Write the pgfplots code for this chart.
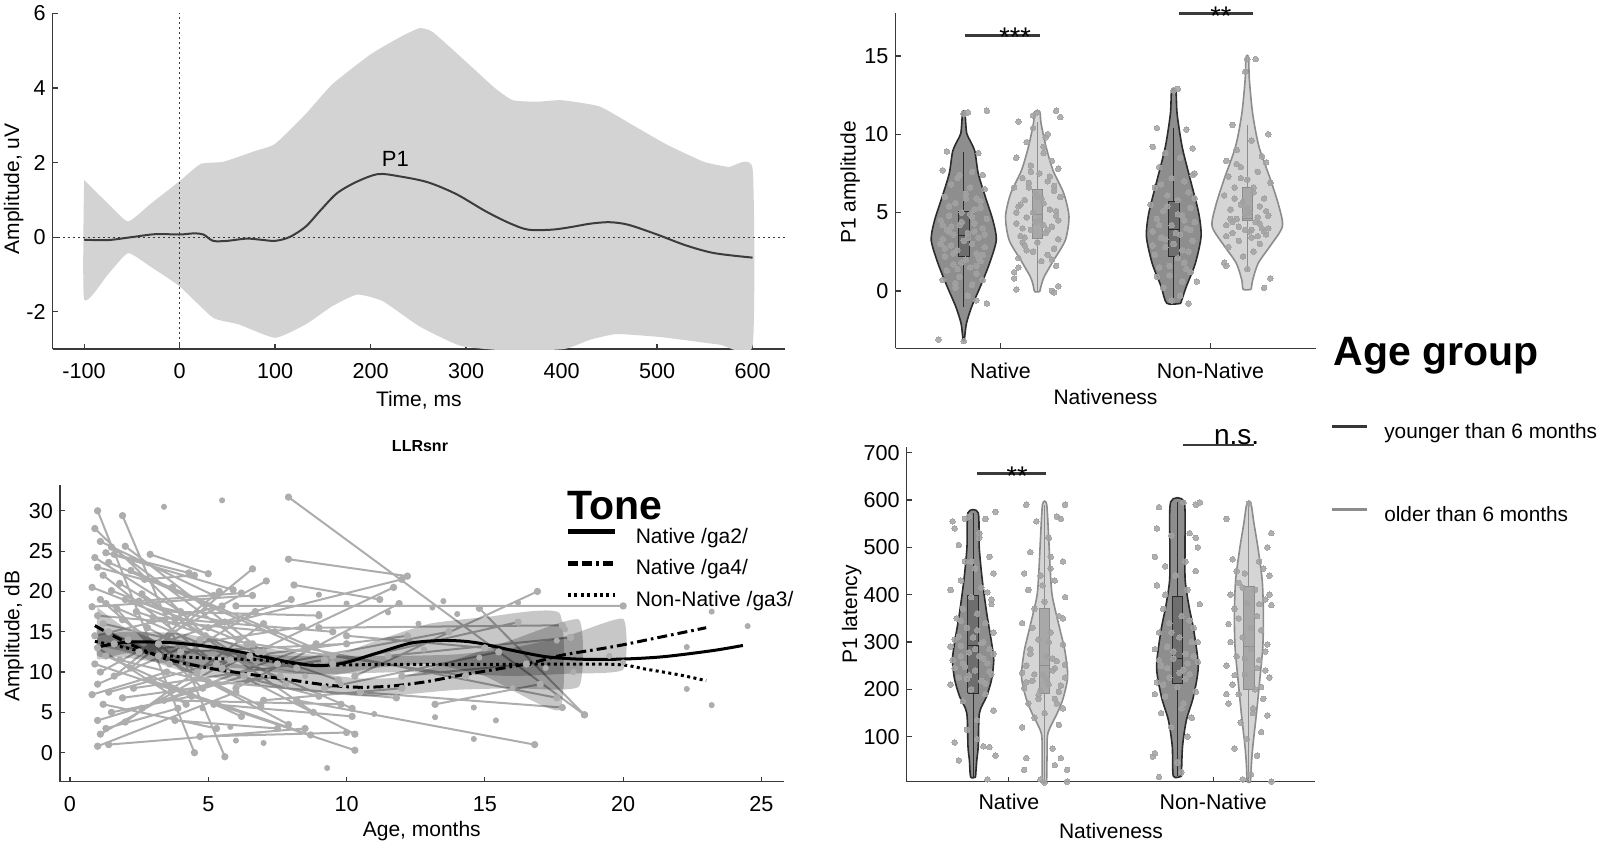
\documentclass[border=0pt]{standalone}
\usepackage{fontspec}
\setmainfont{Liberation Sans}
\usepackage{pgfplots}
\usepackage{pgfplotstable}
\pgfplotsset{compat=1.18}

\definecolor{axl}{HTML}{3A3A3A}
\definecolor{bandc}{HTML}{D3D3D3}
\definecolor{erpl}{HTML}{3C3C3C}
\definecolor{vyf}{HTML}{8E8E8E}
\definecolor{vyd}{HTML}{2C2C2C}
\definecolor{vof}{HTML}{D5D5D5}
\definecolor{vod}{HTML}{8C8C8C}
\definecolor{byf}{HTML}{6E6E6E}
\definecolor{bof}{HTML}{A8A8A8}
\definecolor{ptc}{HTML}{A2A2A2}
\definecolor{segc}{HTML}{ADADAD}
\definecolor{sigc}{HTML}{3A3A3A}
\definecolor{legy}{HTML}{363636}
\definecolor{lego}{HTML}{8C8C8C}

\pgfplotsset{
  panel/.style={
    scale only axis, anchor=south west,
    axis x line*=bottom, axis y line*=left,
    axis line style={draw=axl, line width=0.7pt},
    tick align=inside, major tick length=2.5pt,
    tick style={draw=axl, line width=0.6pt},
    /pgf/number format/assume math mode=true,
    ticklabel style={font=\fontsize{10.8}{12}\selectfont},
    label style={font=\fontsize{10.5}{12}\selectfont},
  },
  violinY/.style={fill=vyf, draw=vyd, line width=0.8pt, smooth, tension=0.45},
  violinO/.style={fill=vof, draw=vod, line width=0.8pt, smooth, tension=0.45},
  whiskY/.style={draw=vyd, line width=0.5pt},
  whiskO/.style={draw=vod, line width=0.5pt},
  boxY/.style={fill=byf, draw=vyd, line width=0.5pt},
  boxO/.style={fill=bof, draw=vod, line width=0.5pt},
  jit/.style={only marks, color=ptc, mark=*, mark size=1.4pt, mark options={draw=ptc, fill=ptc, line width=0pt, opacity=0.85}},
  sig/.style={sigc, line width=1.35pt},
}

% ---------- violin outlines: s (side), w (half width), y ----------
\pgfplotstableread{
s w y
1 0.003 -3.13
1 0.013 -2.06
1 0.038 -1.0
1 0.079 0.28
1 0.123 1.77
1 0.155 3.25
1 0.139 4.5
1 0.103 6.0
1 0.069 7.5
1 0.053 8.9
1 0.030 9.6
1 0.014 10.06
1 0.008 11.0
1 0.007 11.44
-1 0.007 11.44
-1 0.008 11.0
-1 0.014 10.06
-1 0.030 9.6
-1 0.053 8.9
-1 0.069 7.5
-1 0.103 6.0
-1 0.139 4.5
-1 0.155 3.25
-1 0.123 1.77
-1 0.079 0.28
-1 0.038 -1.0
-1 0.013 -2.06
-1 0.003 -3.13
1 0.003 -3.13
}\NYa
\pgfplotstableread{
s w y
1 0.012 -0.04
1 0.020 0.4
1 0.033 0.91
1 0.079 1.98
1 0.134 3.25
1 0.151 4.74
1 0.127 6.2
1 0.075 7.7
1 0.042 9.2
1 0.018 10.7
1 0.012 11.44
-1 0.012 11.44
-1 0.018 10.7
-1 0.042 9.2
-1 0.075 7.7
-1 0.127 6.2
-1 0.151 4.74
-1 0.134 3.25
-1 0.079 1.98
-1 0.033 0.91
-1 0.020 0.4
-1 0.012 -0.04
1 0.012 -0.04
}\NOa
\pgfplotstableread{
s w y
1 0.033 -0.79
1 0.060 0.28
1 0.103 1.77
1 0.130 3.47
1 0.119 4.96
1 0.079 7.1
1 0.040 9.2
1 0.016 11.3
1 0.010 12.8
-1 0.010 12.8
-1 0.016 11.3
-1 0.040 9.2
-1 0.079 7.1
-1 0.119 4.96
-1 0.130 3.47
-1 0.103 1.77
-1 0.060 0.28
-1 0.033 -0.79
1 0.033 -0.79
}\NNYa
\pgfplotstableread{
s w y
1 0.019 0.1
1 0.026 0.7
1 0.052 1.77
1 0.107 2.83
1 0.167 4.1
1 0.151 5.4
1 0.111 7.1
1 0.056 9.2
1 0.026 11.3
1 0.010 13.5
1 0.006 14.9
-1 0.006 14.9
-1 0.010 13.5
-1 0.026 11.3
-1 0.056 9.2
-1 0.111 7.1
-1 0.151 5.4
-1 0.167 4.1
-1 0.107 2.83
-1 0.052 1.77
-1 0.026 0.7
-1 0.019 0.1
1 0.019 0.1
}\NNOa
\pgfplotstableread{
s w y
1 0.012 15
1 0.018 50
1 0.025 79
1 0.031 150
1 0.065 184
1 0.090 220
1 0.101 262
1 0.090 300
1 0.067 360
1 0.045 431
1 0.030 500
1 0.025 573
-1 0.025 573
-1 0.030 500
-1 0.045 431
-1 0.067 360
-1 0.090 300
-1 0.101 262
-1 0.090 220
-1 0.065 184
-1 0.031 150
-1 0.025 79
-1 0.018 50
-1 0.012 15
1 0.012 15
}\NYl
\pgfplotstableread{
s w y
1 0.010 5
1 0.012 60
1 0.016 107
1 0.061 149
1 0.090 180
1 0.113 227
1 0.100 280
1 0.076 325
1 0.038 396
1 0.028 450
1 0.020 520
1 0.010 591
-1 0.010 591
-1 0.020 520
-1 0.028 450
-1 0.038 396
-1 0.076 325
-1 0.100 280
-1 0.113 227
-1 0.090 180
-1 0.061 149
-1 0.016 107
-1 0.012 60
-1 0.010 5
1 0.010 5
}\NOl
\pgfplotstableread{
s w y
1 0.020 17
1 0.025 79
1 0.044 135
1 0.078 184
1 0.102 248
1 0.080 325
1 0.057 375
1 0.038 431
1 0.037 500
1 0.033 596
-1 0.033 596
-1 0.037 500
-1 0.038 431
-1 0.057 375
-1 0.080 325
-1 0.102 248
-1 0.078 184
-1 0.044 135
-1 0.025 79
-1 0.020 17
1 0.020 17
}\NNYl
\pgfplotstableread{
s w y
1 0.008 5
1 0.012 40
1 0.019 79
1 0.037 149
1 0.053 219
1 0.068 290
1 0.071 360
1 0.065 431
1 0.044 500
1 0.025 550
1 0.010 592
-1 0.010 592
-1 0.025 550
-1 0.044 500
-1 0.065 431
-1 0.071 360
-1 0.068 290
-1 0.053 219
-1 0.037 149
-1 0.019 79
-1 0.012 40
-1 0.008 5
1 0.008 5
}\NNOl

% ---------- jittered points: dx y ----------
\pgfplotstableread{
dx y
-0.08 8.9
0.07 8.8
-0.10 7.7
0.09 7.4
-0.03 7.2
0.04 7.6
-0.06 6.8
0.10 6.5
0.01 6.2
-0.09 6.0
0.06 5.9
-0.04 5.6
0.08 5.3
-0.01 5.0
0.03 4.9
-0.07 4.8
0.11 4.6
-0.11 4.5
0.05 4.3
-0.02 4.2
0.09 4.0
-0.08 3.9
0.02 3.7
-0.05 3.6
0.07 3.4
-0.10 3.3
0.00 3.2
0.04 3.0
-0.06 2.9
0.10 2.8
-0.03 2.6
0.06 2.4
-0.09 2.2
0.01 2.0
0.08 1.9
-0.05 1.7
0.03 1.5
-0.08 1.3
0.06 1.1
-0.02 0.9
0.09 0.7
-0.10 0.7
0.04 0.4
-0.04 0.2
0.02 -0.3
0.06 -0.6
0.11 -0.8
-0.12 -3.1
0.00 -3.2
0.02 11.4
0.11 11.5
0.00 11.3
-0.07 5.4
0.05 3.8
-0.01 4.4
0.05 5.2
-0.06 4.1
0.02 3.4
-0.09 2.7
0.07 2.1
-0.03 1.4
0.10 3.6
-0.11 3.0
0.04 4.7
-0.05 2.4
0.08 5.7
-0.01 1.8
0.03 6.6
-0.07 3.8
0.06 1.6
-0.04 0.5
0.01 5.9
-0.10 4.2
0.09 2.3
-0.02 7.4
}\NYap
\pgfplotstableread{
dx y
-0.09 10.8
0.09 11.5
0.11 11.1
0.00 11.4
-0.02 11.2
0.05 10.0
-0.05 9.5
0.03 9.2
-0.10 8.5
0.07 8.3
-0.03 8.0
0.10 7.8
0.01 7.5
-0.07 7.2
0.05 7.0
-0.11 6.6
0.08 6.4
-0.01 6.2
0.11 6.0
-0.06 5.8
0.03 5.6
-0.09 5.4
0.06 5.2
-0.02 5.0
0.09 4.8
-0.05 4.7
0.01 4.5
-0.10 4.3
0.07 4.1
-0.03 3.9
0.04 3.7
-0.08 3.5
0.10 3.3
0.00 3.1
-0.06 2.9
0.08 2.7
-0.02 2.5
0.05 2.3
-0.09 2.1
0.02 1.9
0.09 1.6
-0.11 1.2
-0.11 0.8
0.10 0.3
-0.10 0.1
0.07 0.0
0.08 -0.1
-0.04 6.6
0.03 4.2
-0.07 3.1
0.06 7.3
-0.04 6.9
0.02 5.9
-0.08 5.5
0.09 5.1
-0.01 4.4
0.05 3.9
-0.06 3.4
0.08 6.7
-0.10 5.0
0.03 8.8
-0.03 7.6
0.10 4.5
-0.07 4.0
0.00 6.0
-0.05 2.6
0.07 2.0
-0.09 1.5
0.04 9.8
-0.02 10.4
}\NOap
\pgfplotstableread{
dx y
0.00 12.8
0.02 12.9
-0.08 10.4
0.06 10.3
-0.10 9.2
0.09 9.1
-0.04 8.8
0.03 8.5
-0.07 7.9
0.10 7.5
-0.01 7.2
0.05 7.0
-0.09 6.6
0.07 6.3
-0.03 6.1
0.02 5.8
-0.11 5.5
0.08 5.3
-0.05 5.1
0.04 4.8
-0.08 4.6
0.10 4.4
-0.01 4.2
0.06 4.0
-0.10 3.8
0.03 3.6
-0.06 3.4
0.09 3.2
0.00 3.0
-0.04 2.8
0.07 2.5
-0.09 2.3
0.02 2.1
0.05 1.8
-0.07 1.5
0.08 1.2
-0.02 1.0
0.04 0.6
-0.05 0.2
0.11 0.6
0.03 -0.3
-0.01 -0.6
0.07 -0.8
0.09 7.4
0.05 4.5
-0.07 4.2
0.01 3.7
-0.03 5.4
0.08 3.9
-0.10 2.9
0.04 2.6
-0.06 6.8
0.10 5.9
-0.02 1.6
0.06 1.4
-0.08 0.9
0.02 4.9
-0.04 3.3
}\NNYap
\pgfplotstableread{
dx y
0.00 14.8
0.04 14.8
-0.01 14.0
-0.07 10.6
0.10 10.0
0.02 9.6
-0.05 9.0
0.07 8.6
-0.10 8.3
0.09 8.2
-0.03 7.9
0.05 7.6
-0.09 7.3
0.00 7.1
0.11 6.9
-0.06 6.6
0.03 6.3
-0.11 6.1
0.08 5.9
-0.02 5.7
0.06 5.4
-0.08 5.2
0.01 5.0
0.10 4.8
-0.05 4.6
0.04 4.4
-0.10 4.2
0.07 4.0
-0.01 3.9
-0.07 3.7
0.09 3.6
0.02 3.4
-0.04 3.2
0.06 3.0
-0.09 2.8
0.03 2.5
-0.02 2.2
-0.11 1.8
-0.10 1.6
0.00 1.4
0.11 0.8
0.08 0.2
0.05 4.7
-0.03 5.5
0.01 3.8
0.06 4.3
-0.04 4.1
0.02 3.9
-0.08 4.6
0.09 5.1
-0.01 4.9
0.05 3.5
-0.06 5.9
0.08 3.8
-0.10 3.5
0.03 6.6
-0.03 7.2
0.10 4.0
-0.07 4.4
0.00 5.3
-0.05 8.1
}\NNOap
\pgfplotstableread{
dx y
-0.10 555
-0.09 540
0.06 560
0.11 575
-0.02 565
0.03 530
-0.07 505
0.08 480
-0.04 470
0.01 455
0.10 445
-0.06 430
0.04 415
-0.11 410
0.07 405
-0.01 395
0.09 380
-0.05 370
0.02 360
-0.08 350
0.06 340
-0.03 330
0.10 320
0.00 310
-0.09 305
0.05 300
-0.06 292
0.08 285
-0.02 278
0.03 270
-0.10 262
0.07 255
-0.04 248
0.01 240
0.09 232
-0.07 225
0.04 218
-0.11 210
-0.01 200
0.06 190
-0.05 175
0.10 155
0.02 135
-0.03 115
-0.09 88
0.05 80
0.08 78
-0.07 50
0.11 60
0.07 10
0.02 95
-0.06 270
0.05 265
-0.05 255
0.01 285
-0.09 245
0.08 238
-0.02 230
0.04 298
-0.07 312
0.10 275
-0.03 222
0.06 212
-0.11 290
0.02 325
-0.06 345
0.09 390
-0.01 470
0.03 520
-0.04 560
}\NYlp
\pgfplotstableread{
dx y
0.10 590
-0.09 590
0.06 565
-0.04 555
0.08 560
0.02 520
-0.07 490
0.03 480
0.09 470
-0.10 445
-0.02 440
0.05 430
-0.08 410
0.10 395
0.00 385
-0.05 370
0.07 355
-0.11 340
0.03 320
-0.03 305
0.09 295
-0.07 285
0.01 270
0.06 260
-0.09 250
0.04 240
-0.01 232
0.10 225
-0.06 218
0.02 210
-0.10 202
0.07 195
-0.03 188
0.05 180
-0.08 170
0.09 160
0.00 150
-0.05 140
0.07 125
-0.11 120
0.08 55
-0.09 55
0.11 30
-0.10 30
0.05 40
0.04 75
0.11 5
-0.02 10
0.00 3
0.05 245
-0.05 232
0.01 222
-0.09 215
0.08 208
-0.02 198
0.04 265
-0.07 275
0.10 252
-0.03 180
0.06 170
-0.11 235
0.02 300
-0.06 330
0.09 350
-0.01 420
0.03 455
}\NOlp
\pgfplotstableread{
dx y
0.03 595
0.09 590
0.11 595
-0.09 585
-0.10 540
0.06 530
-0.03 525
0.10 500
-0.11 480
0.04 470
-0.06 460
0.09 450
-0.01 440
-0.10 420
0.05 410
0.11 380
-0.07 370
0.02 355
-0.04 340
0.08 330
-0.09 320
0.01 310
0.07 300
-0.05 290
-0.11 285
0.04 275
-0.02 265
0.10 258
-0.08 250
0.03 242
0.06 232
-0.04 225
-0.10 215
0.00 205
0.09 195
-0.06 185
0.03 170
-0.08 150
0.07 140
-0.03 120
0.05 100
-0.11 65
-0.12 58
0.00 45
-0.09 15
0.02 25
0.05 255
-0.05 245
0.01 235
-0.09 262
0.08 270
-0.02 280
0.04 222
-0.07 210
0.10 300
-0.03 320
0.06 345
-0.11 190
0.02 160
-0.06 400
0.09 520
}\NNYlp
\pgfplotstableread{
dx y
0.00 593
-0.11 560
0.11 530
-0.08 475
0.05 470
0.07 455
-0.02 445
0.10 440
-0.05 425
0.03 410
-0.09 400
0.08 390
-0.01 382
0.11 378
-0.07 370
0.04 355
-0.10 338
0.06 325
-0.03 310
0.09 295
0.01 285
-0.06 270
0.05 262
-0.11 250
0.08 240
-0.02 232
0.10 225
-0.08 210
0.03 200
-0.05 190
0.07 180
-0.10 170
0.02 160
0.09 145
-0.04 130
0.06 110
-0.01 95
0.04 60
-0.07 75
0.01 20
-0.03 10
0.11 5
0.05 380
-0.05 350
0.01 330
-0.09 300
0.08 280
-0.02 265
0.04 245
-0.07 230
0.10 400
-0.03 415
0.06 205
-0.11 190
0.02 150
-0.06 450
0.09 500
}\NNOlp

\begin{document}
\begin{tikzpicture}

% ================= ERP panel =================
\begin{axis}[panel, at={(26.3pt,-174.5pt)}, width=366.2pt, height=167.85pt,
  xmin=-133, xmax=634, ymin=-3, ymax=6,
  xtick={-100,0,100,200,300,400,500,600}, ytick={-2,0,2,4,6},
  xticklabel style={anchor=base, yshift=-14.6pt},
  xlabel={Time, ms}, ylabel={Amplitude, uV},
  xlabel style={at={(axis description cs:0.5,0)}, anchor=base, yshift=-28.5pt},
  ylabel style={at={(axis description cs:-0.053,0.477)}, anchor=center}]
\addplot[fill=bandc, draw=none, smooth, tension=0.3] coordinates {(-100,1.53) (-75,0.9) (-54,0.42) (-30,0.9) (0,1.5) (22,1.96) (46,2.02) (78,2.3) (100,2.5) (132,3.3) (160,4.1) (200,4.9) (230,5.35) (251,5.6) (265,5.5) (300,4.7) (330,4.0) (349,3.67) (375,3.63) (400,3.67) (440,3.5) (478,2.95) (511,2.47) (549,2.02) (575,1.88) (600,1.84)
 (600,-2.92) (565,-2.88) (511,-2.7) (490,-2.65) (457,-2.6) (430,-2.75) (403,-3.0) (349,-3.05) (295,-2.92) (251,-2.39) (213,-1.72) (186,-1.54) (160,-1.85) (132,-2.34) (100,-2.7) (62,-2.34) (35,-2.16) (0,-1.32) (-30,-0.8) (-54,-0.43) (-75,-1.0) (-100,-1.67) (-100,1.53)};
\addplot[draw=axl, line width=0.6pt, dash pattern=on 1pt off 1.5pt] coordinates {(0,-3) (0,6)};
\addplot[draw=axl, line width=0.6pt, dash pattern=on 1pt off 1.5pt] coordinates {(-133,0) (634,0)};
\addplot[erpl, line width=1pt, smooth] coordinates {(-100,-0.07) (-75,-0.08) (-50,0.0) (-25,0.08) (0,0.07) (15,0.1) (25,0.07) (35,-0.1) (50,-0.1) (70,-0.04) (85,-0.07) (100,-0.1) (115,0.0) (132,0.28) (148,0.73) (165,1.18) (186,1.49) (208,1.69) (230,1.63) (260,1.47) (290,1.15) (320,0.7) (345,0.38) (365,0.2) (390,0.2) (410,0.27) (430,0.36) (450,0.4) (470,0.33) (500,0.07) (530,-0.22) (560,-0.43) (600,-0.55)};
\node[anchor=base, font=\fontsize{11}{13}\selectfont] at (axis cs:226,1.89) {P1};
\end{axis}

% ================= P1 amplitude violins =================
\begin{axis}[panel, at={(447.75pt,-174.15pt)}, width=210pt, height=167.5pt,
  xmin=0.5, xmax=2.5, ymin=-3.66, ymax=17.72, clip=false,
  xtick={1,2}, xticklabels={Native,Non-Native}, ytick={0,5,10,15},
  xticklabel style={anchor=base, yshift=-15pt, font=\fontsize{10.7}{12}\selectfont},
  xlabel={Nativeness}, ylabel={P1 amplitude},
  xlabel style={at={(axis description cs:0.5,0)}, anchor=base, yshift=-28.3pt},
  ylabel style={at={(axis description cs:-0.108,0.495)}, anchor=center}]
\addplot[violinY] table[x expr=0.825+\thisrow{s}*\thisrow{w}, y=y] {\NYa};
\addplot[violinO] table[x expr=1.175+\thisrow{s}*\thisrow{w}, y=y] {\NOa};
\addplot[violinY] table[x expr=1.825+\thisrow{s}*\thisrow{w}, y=y] {\NNYa};
\addplot[violinO] table[x expr=2.175+\thisrow{s}*\thisrow{w}, y=y] {\NNOa};
\addplot[whiskY] coordinates {(0.825,-1.0) (0.825,8.9)};
\addplot[whiskO] coordinates {(1.175,0.0) (1.175,10.8)};
\addplot[whiskY] coordinates {(1.825,-0.79) (1.825,10.4)};
\addplot[whiskO] coordinates {(2.175,1.3) (2.175,10.6)};
\addplot[boxY] coordinates {(0.80,2.19) (0.85,2.19) (0.85,5.1) (0.80,5.1) (0.80,2.19)};
\addplot[boxO] coordinates {(1.15,3.32) (1.20,3.32) (1.20,6.45) (1.15,6.45) (1.15,3.32)};
\addplot[boxY] coordinates {(1.80,2.19) (1.85,2.19) (1.85,5.74) (1.80,5.74) (1.80,2.19)};
\addplot[boxO] coordinates {(2.15,4.5) (2.20,4.5) (2.20,6.62) (2.15,6.62) (2.15,4.5)};
\addplot[whiskY] coordinates {(0.80,3.55) (0.85,3.55)};
\addplot[whiskO] coordinates {(1.15,4.85) (1.20,4.85)};
\addplot[whiskY] coordinates {(1.80,3.95) (1.85,3.95)};
\addplot[whiskO] coordinates {(2.15,4.6) (2.20,4.6)};
\addplot[jit] table[x expr=0.825+\thisrow{dx}, y=y] {\NYap};
\addplot[jit] table[x expr=1.175+\thisrow{dx}, y=y] {\NOap};
\addplot[jit] table[x expr=1.825+\thisrow{dx}, y=y] {\NNYap};
\addplot[jit] table[x expr=2.175+\thisrow{dx}, y=y] {\NNOap};
\addplot[sig] coordinates {(0.83,16.3) (1.19,16.3)};
\node[anchor=base, font=\fontsize{13.5}{15}\selectfont] at (axis cs:1.07,15.57) {***};
\addplot[sig] coordinates {(1.852,17.7) (2.2,17.7)};
\node[anchor=base, font=\fontsize{13.5}{15}\selectfont] at (axis cs:2.05,16.97) {**};
\end{axis}

% ================= P1 latency violins =================
\begin{axis}[panel, at={(453.35pt,-390.85pt)}, width=204.3pt, height=167.5pt,
  xmin=0.5, xmax=2.5, ymin=5, ymax=712.6, clip=false,
  xtick={1,2}, xticklabels={Native,Non-Native}, ytick={100,200,300,400,500,600,700},
  xticklabel style={anchor=base, yshift=-14pt, font=\fontsize{10.7}{12}\selectfont},
  xlabel={Nativeness}, ylabel={P1 latency},
  xlabel style={at={(axis description cs:0.5,0)}, anchor=base, yshift=-28.3pt},
  ylabel style={at={(axis description cs:-0.1346,0.5)}, anchor=center},
  legend style={at={(axis description cs:1.036,1.072)}, anchor=north west, draw=none, fill=none,
    inner sep=0pt, row sep=32.5pt, column sep=7.75pt, font=\fontsize{10.4}{12}\selectfont,
    nodes={inner sep=0pt}},
  legend cell align=left,
  legend image code/.code={\draw[#1] (0pt,2.7pt) -- (17.5pt,2.7pt);}]
\addlegendimage{legy, line width=1.7pt}
\addlegendentry{younger than 6 months}
\addlegendimage{lego, line width=1.7pt}
\addlegendentry{older than 6 months}
\addplot[violinY] table[x expr=0.825+\thisrow{s}*\thisrow{w}, y=y] {\NYl};
\addplot[violinO] table[x expr=1.175+\thisrow{s}*\thisrow{w}, y=y] {\NOl};
\addplot[violinY] table[x expr=1.825+\thisrow{s}*\thisrow{w}, y=y] {\NNYl};
\addplot[violinO] table[x expr=2.175+\thisrow{s}*\thisrow{w}, y=y] {\NNOl};
\addplot[whiskY] coordinates {(0.825,15) (0.825,572)};
\addplot[whiskO] coordinates {(1.175,5) (1.175,590)};
\addplot[whiskY] coordinates {(1.825,17) (1.825,595)};
\addplot[whiskO] coordinates {(2.175,5) (2.175,592)};
\addplot[boxY] coordinates {(0.80,192) (0.85,192) (0.85,399) (0.80,399) (0.80,192)};
\addplot[boxO] coordinates {(1.15,192) (1.20,192) (1.20,370) (1.15,370) (1.15,192)};
\addplot[boxY] coordinates {(1.80,213) (1.85,213) (1.85,397) (1.80,397) (1.80,213)};
\addplot[boxO] coordinates {(2.15,199) (2.20,199) (2.20,417) (2.15,417) (2.15,199)};
\addplot[whiskY] coordinates {(0.80,292) (0.85,292)};
\addplot[whiskO] coordinates {(1.15,251) (1.20,251)};
\addplot[whiskY] coordinates {(1.80,265) (1.85,265)};
\addplot[whiskO] coordinates {(2.15,290) (2.20,290)};
\addplot[jit] table[x expr=0.825+\thisrow{dx}, y=y] {\NYlp};
\addplot[jit] table[x expr=1.175+\thisrow{dx}, y=y] {\NOlp};
\addplot[jit] table[x expr=1.825+\thisrow{dx}, y=y] {\NNYlp};
\addplot[jit] table[x expr=2.175+\thisrow{dx}, y=y] {\NNOlp};
\addplot[sig] coordinates {(0.842,655.6) (1.183,655.6)};
\node[anchor=base, font=\fontsize{13.5}{15}\selectfont] at (axis cs:1.04,631.5) {**};
\addplot[sig] coordinates {(1.851,716) (2.2,716)};
\node[anchor=base, font=\fontsize{14}{16}\selectfont] at (axis cs:2.115,718) {n.s.};
\end{axis}

% ================= LLRsnr panel =================
\begin{axis}[panel, at={(30pt,-390.85pt)}, width=361.8pt, height=148.35pt,
  xmin=-0.36, xmax=25.8, ymin=-3.6, ymax=33.2,
  xtick={0,5,10,15,20,25}, ytick={0,5,10,15,20,25,30},
  xticklabel style={anchor=base, yshift=-15pt},
  xlabel={Age, months}, ylabel={Amplitude, dB},
  xlabel style={at={(axis description cs:0.5,0)}, anchor=base, yshift=-27.5pt},
  ylabel style={at={(axis description cs:-0.0636,0.49)}, anchor=center},
  title={LLRsnr}, title style={at={(axis description cs:0.4975,1.073)}, anchor=base, font=\bfseries\fontsize{8}{9}\selectfont},
  legend style={at={(axis description cs:0.6985,0.8565)}, anchor=north west, draw=none, fill=none,
    inner sep=0pt, row sep=6.7pt, column sep=9.5pt, font=\fontsize{10.5}{12}\selectfont,
    nodes={inner sep=0pt}},
  legend cell align=left,
  legend image code/.code={\draw[#1] (0pt,2.7pt) -- (23.3pt,2.7pt);}]
\addlegendimage{black, line width=2.2pt}
\addlegendentry{Native /ga2/}
\addlegendimage{black, line width=2.2pt, dash pattern=on 5pt off 2pt on 5pt off 2pt on 1.3pt off 2pt}
\addlegendentry{Native /ga4/}
\addlegendimage{black, line width=2.2pt, dash pattern=on 1.5pt off 1.7pt}
\addlegendentry{Non-Native /ga3/}
\addplot[segc, line width=1pt, mark=*, mark size=1.3pt, mark options={draw=segc, fill=segc}, unbounded coords=jump] coordinates {
(1.0,30.0) (4.5,0.0) (nan,nan)
(1.9,29.4) (5.6,-0.5) (nan,nan)
(0.9,27.8) (4.9,14.5) (nan,nan)
(1.1,26.2) (5.2,19.5) (nan,nan)
(1.5,25.5) (6.1,14.0) (nan,nan)
(2.0,25.6) (7.0,12.5) (nan,nan)
(1.3,24.8) (5.9,20.2) (nan,nan)
(1.6,24.6) (4.3,22.3) (nan,nan)
(2.9,24.6) (5.0,22.2) (nan,nan)
(0.9,24.2) (4.0,17.5) (nan,nan)
(1.4,23.6) (8.5,13.0) (nan,nan)
(1.0,23.0) (3.7,20.5) (nan,nan)
(2.2,22.6) (9.5,12.0) (nan,nan)
(1.2,22.0) (5.3,11.0) (nan,nan)
(1.8,21.0) (7.8,8.5) (nan,nan)
(0.8,20.5) (3.8,16.5) (nan,nan)
(1.5,20.1) (6.4,13.5) (nan,nan)
(2.6,19.7) (8.8,5.0) (nan,nan)
(1.1,19.0) (4.8,8.0) (nan,nan)
(2.0,19.0) (5.6,16.2) (nan,nan)
(1.3,18.5) (10.2,5.5) (nan,nan)
(0.8,18.1) (6.6,19.5) (nan,nan)
(1.7,17.8) (3.2,12.0) (nan,nan)
(2.4,17.5) (9.7,9.0) (nan,nan)
(1.0,17.0) (7.4,15.0) (nan,nan)
(1.9,16.5) (4.6,10.0) (nan,nan)
(1.2,16.0) (8.2,10.5) (nan,nan)
(2.8,15.5) (10.3,2.3) (nan,nan)
(1.4,15.0) (6.9,5.8) (nan,nan)
(0.9,14.5) (5.5,18.2) (nan,nan)
(2.1,14.0) (7.9,3.5) (nan,nan)
(1.6,13.5) (9.0,7.0) (nan,nan)
(1.0,13.0) (4.2,6.0) (nan,nan)
(2.5,12.5) (8.4,15.6) (nan,nan)
(1.3,12.0) (6.2,4.5) (nan,nan)
(1.8,11.5) (5.0,8.8) (nan,nan)
(0.9,11.0) (10.3,0.3) (nan,nan)
(2.2,10.5) (6.6,22.8) (nan,nan)
(1.1,10.0) (7.1,21.3) (nan,nan)
(1.6,9.5) (5.4,20.0) (nan,nan)
(2.9,9.0) (8.7,2.2) (nan,nan)
(1.0,8.5) (4.7,14.0) (nan,nan)
(2.3,8.0) (9.2,11.5) (nan,nan)
(1.4,7.5) (6.8,12.5) (nan,nan)
(0.8,7.2) (3.5,10.0) (nan,nan)
(1.9,6.8) (7.6,9.5) (nan,nan)
(1.2,6.0) (5.3,3.0) (nan,nan)
(2.6,5.5) (8.9,13.5) (nan,nan)
(1.5,5.0) (4.4,7.0) (nan,nan)
(1.0,4.0) (6.3,9.5) (nan,nan)
(2.0,3.8) (7.0,16.0) (nan,nan)
(1.3,3.0) (3.9,5.5) (nan,nan)
(1.1,2.3) (5.8,11.5) (nan,nan)
(1.4,1.0) (8.5,3.0) (nan,nan)
(1.0,0.8) (6.0,7.5) (nan,nan)
(3.2,13.5) (8.0,19.0) (nan,nan)
(3.6,11.0) (6.7,17.5) (nan,nan)
(3.0,16.8) (9.5,15.0) (nan,nan)
(4.0,12.5) (10.0,13.5) (nan,nan)
(3.4,6.5) (9.8,6.0) (nan,nan)
(4.5,9.0) (11.8,6.8) (nan,nan)
(5.0,15.5) (12.0,21.5) (nan,nan)
(5.5,10.5) (11.7,20.5) (nan,nan)
(6.0,8.0) (11.9,18.5) (nan,nan)
(6.5,12.0) (12.2,14.5) (nan,nan)
(7.0,6.5) (12.0,8.0) (nan,nan)
(7.5,11.0) (13.7,15.0) (nan,nan)
(7.9,24.0) (12.2,21.9) (nan,nan)
(8.1,20.8) (11.2,19.0) (nan,nan)
(7.9,31.7) (18.6,4.7) (nan,nan)
(6.0,18.2) (20.0,18.2) (nan,nan)
(8.2,6.5) (16.8,1.0) (nan,nan)
(10.3,9.5) (16.9,20.0) (nan,nan)
(14.8,17.9) (18.6,4.7) (nan,nan)
(9.0,15.5) (17.8,15.8) (nan,nan)
(8.5,13.0) (17.6,6.8) (nan,nan)
(9.5,11.0) (16.2,16.2) (nan,nan)
(10.5,7.5) (17.8,5.6) (nan,nan)
(11.5,12.0) (18.1,14.3) (nan,nan)
(9.2,8.0) (15.5,12.5) (nan,nan)
(12.0,9.5) (16.5,11.0) (nan,nan)
(13.2,6.0) (17.0,8.5) (nan,nan)
(4.7,2.0) (10.0,2.5) (nan,nan)
(3.8,4.0) (7.5,3.0) (nan,nan)
(5.2,6.0) (10.2,4.5) (nan,nan)
(2.7,21.5) (4.5,22.0) (nan,nan)
(2.5,18.8) (6.2,19.8) (nan,nan)
(3.5,17.5) (9.0,17.0) (nan,nan)
(6.6,13.5) (14.3,9.5) (nan,nan)
(10.0,14.5) (15.0,13.0)
};
\addplot[only marks, color=segc, mark=*, mark size=1.3pt, mark options={draw=segc, fill=segc}] coordinates {
(3.4,30.5) (5.5,31.3) (9.3,-1.9) (13.5,18.8) (13.1,18.0) (14.0,17.2) (12.6,16.0) (14.6,1.7) (14.6,5.6) (13.2,4.4) (11.0,4.8) (17.6,13.9) (17.9,15.3) (16.2,18.6) (18.2,10.0) (22.3,13.1) (22.3,7.9) (23.2,17.5) (23.2,5.9) (24.5,15.7) (9.0,19.6) (9.0,17.2) (11.5,17.4) (10.0,18.5) (8.5,9.5) (7.0,1.2) (6.0,1.5) (5.8,3.2) (4.8,5.5) (15.4,4.0) (16.0,8.0) (17.2,10.5) (12.8,12.8) (14.8,11.8) (9.8,8.5) (20.0,11.2) (19.5,12.0)};
% confidence bands (closed polygons: upper edge forward, lower edge back)
\addplot[fill=black, fill opacity=0.22, draw=none, smooth, tension=0.3] coordinates {(1,14.6) (2,15.0) (4,14.8) (6,13.6) (8,12.5) (9.5,12.0) (11,13.8) (13,16.0) (15,16.8) (17.7,17.3) (17.7,5.3) (15,9.5) (13,11.0) (11,10.5) (9.5,9.6) (8,10.0) (6,11.5) (4,12.4) (2,12.3) (1,11.6) (1,14.6)};
\addplot[fill=black, fill opacity=0.22, draw=none, smooth, tension=0.3] coordinates {(1,18.0) (2,15.5) (4,12.8) (6,11.0) (8,10.2) (10.5,9.2) (12,9.4) (14,11.6) (16,14.0) (18.4,16.5) (18.4,8.2) (16,8.0) (14,7.8) (12,7.2) (10.5,7.0) (8,7.8) (6,8.8) (4,10.2) (2,12.5) (1,13.5) (1,18.0)};
\addplot[fill=black, fill opacity=0.22, draw=none, smooth, tension=0.3] coordinates {(1,15.6) (2,14.2) (4,13.0) (6,12.5) (8,12.0) (10,12.0) (12,12.0) (14,12.2) (16,13.0) (18,14.5) (20,16.6) (20,10.3) (18,9.8) (16,9.5) (14,9.8) (12,10.0) (10,9.8) (8,9.8) (6,10.5) (4,10.8) (2,11.8) (1,12.0) (1,15.6)};
% smooth curves
\addplot[black, line width=1.5pt, smooth] coordinates {(0.9,13.03) (2.05,13.7) (3.61,13.65) (5.06,13.15) (6.39,12.33) (7.83,11.3) (8.9,10.8) (9.88,11.1) (11.08,12.33) (12.3,13.57) (13.3,13.9) (14.1,13.86) (14.81,13.57) (16.02,12.67) (17.22,11.9) (18.43,11.6) (19.88,11.6) (21.44,11.9) (23.25,12.67) (24.33,13.3)};
\addplot[black, line width=1.5pt, smooth, dash pattern=on 5pt off 2pt on 1.3pt off 2pt] coordinates {(0.9,15.76) (1.81,14.06) (2.65,12.74) (3.61,11.5) (5.06,10.47) (6.39,9.77) (7.83,9.1) (9.27,8.4) (10.48,8.11) (11.68,8.28) (12.89,8.81) (14.1,9.6) (14.81,10.0) (16.62,11.09) (17.83,12.12) (19.64,13.15) (21.44,14.4) (23.0,15.5)};
\addplot[black, line width=1.5pt, smooth, dash pattern=on 1.5pt off 1.7pt] coordinates {(0.9,13.8) (2.05,12.99) (3.25,12.12) (5.06,11.7) (6.87,11.5) (8.67,10.88) (9.88,10.88) (11.68,10.96) (14.1,10.96) (16.02,10.96) (19.64,10.96) (20.85,10.34) (22.05,9.64) (23.0,8.93)};
\end{axis}

% legend titles
\node[anchor=base west, font=\bfseries\fontsize{20.5}{24}\selectfont, inner sep=0pt] at (283.35pt,-259.7pt) {Tone};
\node[anchor=base west, font=\bfseries\fontsize{20.5}{24}\selectfont, inner sep=0pt] at (666.5pt,-182.5pt) {Age group};
\pgfresetboundingbox
\useasboundingbox (0pt,0pt) rectangle (801.5pt,-423.5pt);
\end{tikzpicture}
\end{document}
